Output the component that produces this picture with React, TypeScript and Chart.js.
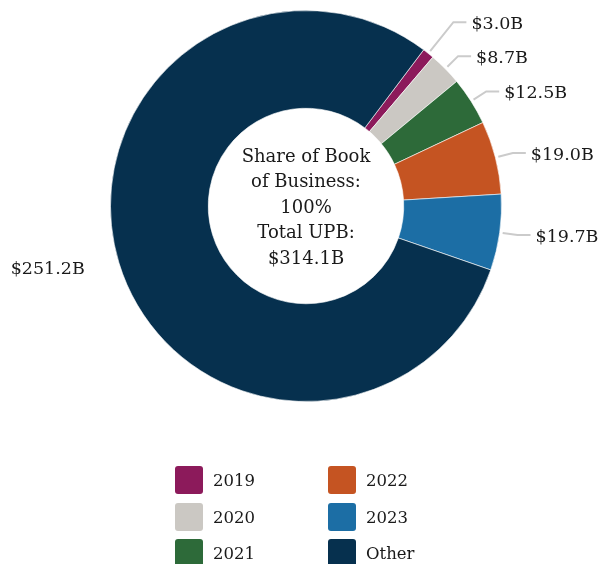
import React, { useEffect, useRef } from "react";
import { Chart, registerables } from "chart.js";

Chart.register(...registerables);

const categories = ["2019", "2020", "2021", "2022", "2023", "Other"];
const upbBillions = [3.0, 8.7, 12.5, 19.0, 19.7, 251.2];
const valueLabels = ["$3.0B", "$8.7B", "$12.5B", "$19.0B", "$19.7B", "$251.2B"];
const colors = ["#8C1A5B", "#CBC8C3", "#2D6A39", "#C55422", "#1C6EA5", "#06304E"];
const centerLines = ["Share of Book", "of Business:", "100%", "Total UPB:", "$314.1B"];

const FONT = '"DejaVu Serif", serif';

const labelPlugin = {
  id: "outerLabels",
  afterDatasetsDraw(chart: any) {
    const ctx = chart.ctx;
    const meta = chart.getDatasetMeta(0);
    const items: any[] = [];
    meta.data.forEach((arc: any, i: number) => {
      const mid = (arc.startAngle + arc.endAngle) / 2;
      const c = Math.cos(mid);
      const s = Math.sin(mid);
      const r = arc.outerRadius;
      items.push({
        i,
        c,
        s,
        cx: arc.x,
        cy: arc.y,
        sx: arc.x + c * (r + 3),
        sy: arc.y + s * (r + 3),
        ex: arc.x + c * (r + 18),
        ey: arc.y + s * (r + 18),
        r,
      });
    });
    const right = items.filter((d) => d.c >= 0).sort((a, b) => a.ey - b.ey);
    for (let k = right.length - 2; k >= 0; k--) {
      if (right[k].ey > right[k + 1].ey - 34) {
        right[k].ey = right[k + 1].ey - 34;
        if (Math.abs(right[k].s) > 0.2) {
          const t = (right[k].ey - right[k].cy) / right[k].s;
          right[k].ex = right[k].cx + right[k].c * t;
        }
      }
    }
    ctx.save();
    ctx.font = `17.5px ${FONT}`;
    ctx.fillStyle = "#1a1a1a";
    ctx.textBaseline = "middle";
    items.forEach((d) => {
      if (d.c >= 0) {
        ctx.strokeStyle = "#CBCBCB";
        ctx.lineWidth = 2;
        ctx.beginPath();
        ctx.moveTo(d.sx, d.sy);
        ctx.lineTo(d.ex, d.ey);
        ctx.lineTo(d.ex + 13, d.ey);
        ctx.stroke();
        ctx.textAlign = "left";
        ctx.fillText(valueLabels[d.i], d.ex + 18, d.ey + 2);
      } else {
        ctx.textAlign = "right";
        ctx.fillText(valueLabels[d.i], d.ex - 17, d.ey + 1);
      }
    });
    // center text
    const a0 = meta.data[0];
    ctx.textAlign = "center";
    ctx.font = `18px ${FONT}`;
    const lh = 25.5;
    const n = centerLines.length;
    centerLines.forEach((t, k) => {
      ctx.fillText(t, a0.x, a0.y + (k - (n - 1) / 2) * lh + 2);
    });
    // legend
    const colX = [175, 328];
    const rowY = [480, 517, 553];
    categories.forEach((cat, i) => {
      const col = Math.floor(i / 3);
      const row = i % 3;
      const x = colX[col];
      const y = rowY[row];
      ctx.fillStyle = colors[i];
      ctx.beginPath();
      (ctx as any).roundRect(x, y - 14, 28, 28, 3);
      ctx.fill();
      ctx.fillStyle = "#1a1a1a";
      ctx.textAlign = "left";
      ctx.font = `16.5px ${FONT}`;
      ctx.fillText(cat, x + 38, y + 2);
    });
    ctx.restore();
  },
};

export default function App() {
  const ref = useRef<HTMLCanvasElement>(null);
  useEffect(() => {
    if (!ref.current) return;
    const chart = new Chart(ref.current, {
      type: "doughnut",
      data: {
        labels: categories,
        datasets: [
          {
            data: upbBillions,
            backgroundColor: colors,
            borderColor: "rgba(255,255,255,0.6)",
            borderWidth: 1,
          },
        ],
      },
      options: {
        responsive: false,
        animation: false,
        rotation: 37,
        cutout: "50%",
        layout: { padding: { left: 12, right: 0, top: 10, bottom: 162 } },
        plugins: {
          legend: { display: false },
          tooltip: { enabled: false },
        },
      },
      plugins: [labelPlugin],
    });
    return () => chart.destroy();
  }, []);
  return (
    <div style={{ position: "absolute", left: 0, top: 0, width: 600, height: 564, background: "#fff" }}>
      <canvas ref={ref} width={600} height={564} style={{ width: 600, height: 564 }} />
    </div>
  );
}
